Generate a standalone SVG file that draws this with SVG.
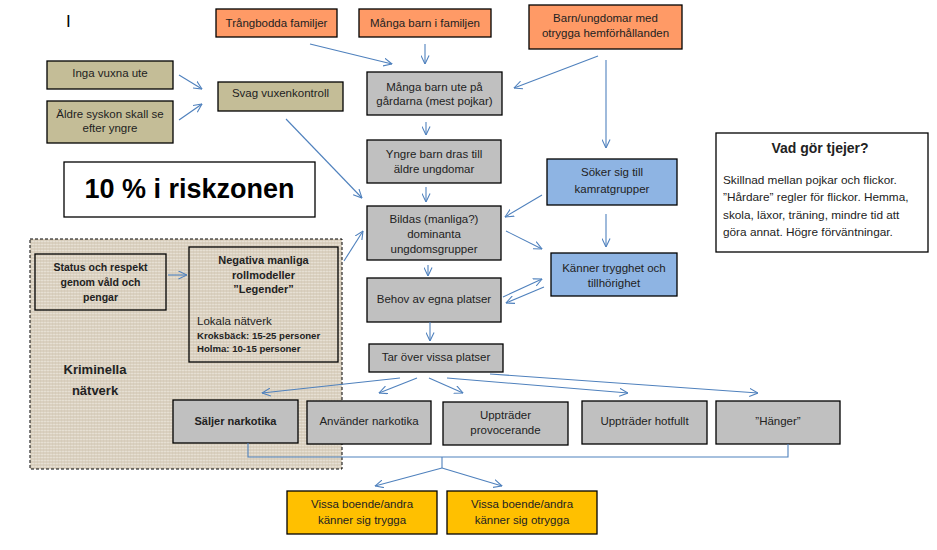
<svg xmlns="http://www.w3.org/2000/svg" width="937" height="550" viewBox="0 0 937 550">
<style>
.t{font-family:"Liberation Sans",Arial,sans-serif;font-size:11.5px;fill:#222;text-anchor:middle}
.b{font-weight:bold}
.bx{stroke:#000;stroke-width:1.3}
.or{fill:#FF9A66}.kh{fill:#C4BD97}.gr{fill:#C0C0C0}.bl{fill:#8EB4E3}.ye{fill:#FFC000}.wh{fill:#fff}
.c line,.c polyline{stroke:#4F81BD;stroke-width:1.1;fill:none}
.c .a{marker-end:url(#arr)}
.p{text-anchor:start;font-size:11.8px}
</style>
<defs>
<marker id="arr" viewBox="0 0 10 10" refX="9.5" refY="5" markerWidth="9" markerHeight="9" orient="auto" markerUnits="userSpaceOnUse">
<path d="M0,0.5 L9.5,5 L0,9.5" fill="none" stroke="#4F81BD" stroke-width="1.2"/>
</marker>
<pattern id="burlap" width="6" height="6" patternUnits="userSpaceOnUse">
<rect width="6" height="6" fill="#DAD0C0"/>
<path d="M0 1.5H6M0 4.5H6" stroke="#E6DFD3" stroke-width="1"/>
<path d="M1.5 0V6M4.5 0V6" stroke="#C9BDA8" stroke-width="0.6" opacity="0.5"/>
</pattern>
</defs>
<rect width="937" height="550" fill="#fff"/>
<text x="66" y="27" style="font-family:'Liberation Sans',Arial,sans-serif;font-size:17px;fill:#000">I</text>

<g id="kriminella-region">
<rect x="30" y="239" width="312" height="230" fill="url(#burlap)" stroke="#000" stroke-width="1" stroke-dasharray="3,2"/>
<text class="t b" x="95" y="374" style="font-size:13px">Kriminella</text>
<text class="t b" x="95" y="395" style="font-size:13px">nätverk</text>
</g>

<g id="trangbodda"><rect class="bx or" x="216" y="9" width="121" height="28"/><text class="t" x="276.5" y="27">Trångbodda familjer</text></g>
<g id="manga-barn-familjen"><rect class="bx or" x="359" y="9" width="132" height="28"/><text class="t" x="425" y="27">Många barn i familjen</text></g>
<g id="barn-ungdomar"><rect class="bx or" x="529" y="5" width="153" height="44"/><text class="t" x="605.5" y="22">Barn/ungdomar med</text><text class="t" x="605.5" y="37">otrygga hemförhållanden</text></g>
<g id="inga-vuxna"><rect class="bx kh" x="47" y="61" width="126" height="28"/><text class="t" x="110" y="77">Inga vuxna ute</text></g>
<g id="aldre-syskon"><rect class="bx kh" x="47" y="101" width="126" height="42"/><text class="t" x="110" y="118">Äldre syskon skall se</text><text class="t" x="110" y="132">efter yngre</text></g>
<g id="svag-vuxenkontroll"><rect class="bx kh" x="218" y="82" width="125" height="29"/><text class="t" x="280.5" y="97">Svag vuxenkontroll</text></g>
<g id="manga-barn-ute"><rect class="bx gr" x="367" y="72" width="135" height="43"/><text class="t" x="434.5" y="91">Många barn ute på</text><text class="t" x="434.5" y="105">gårdarna (mest pojkar)</text></g>
<g id="yngre-barn"><rect class="bx gr" x="367" y="140" width="134" height="43"/><text class="t" x="434" y="158">Yngre barn dras till</text><text class="t" x="434" y="173">äldre ungdomar</text></g>
<g id="bildas"><rect class="bx gr" x="367" y="206" width="134" height="54"/><text class="t" x="434" y="223">Bildas (manliga?)</text><text class="t" x="434" y="238">dominanta</text><text class="t" x="434" y="253">ungdomsgrupper</text></g>
<g id="behov"><rect class="bx gr" x="367" y="278" width="134" height="44"/><text class="t" x="434" y="303">Behov av egna platser</text></g>
<g id="soker"><rect class="bx bl" x="547" y="159" width="130" height="46"/><text class="t" x="612" y="176">Söker sig till</text><text class="t" x="612" y="193">kamratgrupper</text></g>
<g id="kanner-trygghet"><rect class="bx bl" x="551" y="253" width="126" height="43"/><text class="t" x="614" y="272">Känner trygghet och</text><text class="t" x="614" y="287">tillhörighet</text></g>
<g id="vad-gor-tjejer"><rect class="bx wh" x="716" y="133" width="212" height="119"/>
<text class="t b" x="820" y="153" style="font-size:14px">Vad gör tjejer?</text>
<text class="t p" x="723" y="184">Skillnad mellan pojkar och flickor.</text>
<text class="t p" x="723" y="201">”Hårdare” regler för flickor. Hemma,</text>
<text class="t p" x="723" y="219">skola, läxor, träning, mindre tid att</text>
<text class="t p" x="723" y="236">göra annat. Högre förväntningar.</text>
</g>
<g id="riskzonen"><rect class="bx wh" x="64" y="162" width="251" height="55"/><text class="t b" x="189.5" y="198" style="font-size:27px;fill:#000">10 % i riskzonen</text></g>
<g id="status"><rect x="35" y="254" width="131" height="56" fill="none" stroke="#000" stroke-width="1.3"/><text class="t b" x="100.5" y="271" style="font-size:10.5px">Status och respekt</text><text class="t b" x="100.5" y="286" style="font-size:10.5px">genom våld och</text><text class="t b" x="100.5" y="301" style="font-size:10.5px">pengar</text></g>
<g id="negativa"><rect x="189" y="247" width="149" height="115" fill="none" stroke="#000" stroke-width="1.3"/>
<text class="t b" x="263.5" y="264" style="font-size:11px">Negativa manliga</text>
<text class="t b" x="263.5" y="279" style="font-size:11px">rollmodeller</text>
<text class="t b" x="263.5" y="293" style="font-size:11px">”Legender”</text>
<text class="t" x="197" y="325" style="text-anchor:start;font-size:11.5px">Lokala nätverk</text>
<text class="t b" x="197" y="339" style="text-anchor:start;font-size:9.6px">Kroksbäck:  15-25 personer</text>
<text class="t b" x="197" y="352" style="text-anchor:start;font-size:9.6px">Holma:  10-15 personer</text>
</g>
<g id="tar-over"><rect class="bx gr" x="369" y="344" width="134" height="28"/><text class="t" x="436" y="361">Tar över vissa platser</text></g>
<g id="saljer"><rect class="bx gr" x="173" y="400" width="125" height="43"/><text class="t b" x="235.5" y="425" style="font-size:11px">Säljer narkotika</text></g>
<g id="anvander"><rect class="bx gr" x="307" y="401" width="124" height="43"/><text class="t" x="369" y="425">Använder narkotika</text></g>
<g id="provocerande"><rect class="bx gr" x="443" y="402" width="125" height="43"/><text class="t" x="505.5" y="419">Uppträder</text><text class="t" x="505.5" y="434">provocerande</text></g>
<g id="hotfullt"><rect class="bx gr" x="582" y="401" width="125" height="43"/><text class="t" x="644.5" y="425">Uppträder hotfullt</text></g>
<g id="hanger"><rect class="bx gr" x="716" y="401" width="124" height="43"/><text class="t" x="778" y="425">”Hänger”</text></g>
<g id="trygga"><rect class="bx ye" x="287" y="491" width="150" height="43"/><text class="t" x="362" y="508">Vissa boende/andra</text><text class="t" x="362" y="524">känner sig trygga</text></g>
<g id="otrygga"><rect class="bx ye" x="447" y="491" width="150" height="43"/><text class="t" x="522" y="508">Vissa boende/andra</text><text class="t" x="522" y="524">känner sig otrygga</text></g>

<g id="connectors" class="c">
<line class="a" x1="310" y1="44" x2="392" y2="64"/>
<line class="a" x1="425" y1="44" x2="425" y2="64"/>
<line class="a" x1="598" y1="56" x2="514" y2="88"/>
<line class="a" x1="606" y1="60" x2="606" y2="148"/>
<line class="a" x1="179" y1="75" x2="202" y2="89"/>
<line class="a" x1="179" y1="120" x2="202" y2="104"/>
<line class="a" x1="286" y1="119" x2="362" y2="198"/>
<line class="a" x1="426" y1="122" x2="426" y2="135"/>
<line class="a" x1="426" y1="187" x2="426" y2="202"/>
<line class="a" x1="542" y1="195" x2="505" y2="217"/>
<line class="a" x1="506" y1="231" x2="542" y2="249"/>
<line class="a" x1="606" y1="214" x2="606" y2="247"/>
<line class="a" x1="428" y1="265" x2="428" y2="276"/>
<line class="a" x1="503" y1="297" x2="542" y2="279"/>
<line class="a" x1="544" y1="287" x2="506" y2="303"/>
<line class="a" x1="430" y1="322" x2="430" y2="341"/>
<line class="a" x1="168" y1="275" x2="187" y2="275"/>
<line class="a" x1="344" y1="261" x2="363" y2="231"/>
<line class="a" x1="400" y1="378" x2="262" y2="393"/>
<line class="a" x1="417" y1="378" x2="379" y2="393"/>
<line class="a" x1="429" y1="378" x2="463" y2="393"/>
<line class="a" x1="447" y1="378" x2="628" y2="393"/>
<line class="a" x1="490" y1="374" x2="758" y2="393"/>
<polyline points="248,443 248,457 788,457 788,444"/>
<line x1="442" y1="457" x2="442" y2="468"/>
<line class="a" x1="442" y1="468" x2="375" y2="486"/>
<line class="a" x1="442" y1="468" x2="502" y2="486"/>
</g>
</svg>
